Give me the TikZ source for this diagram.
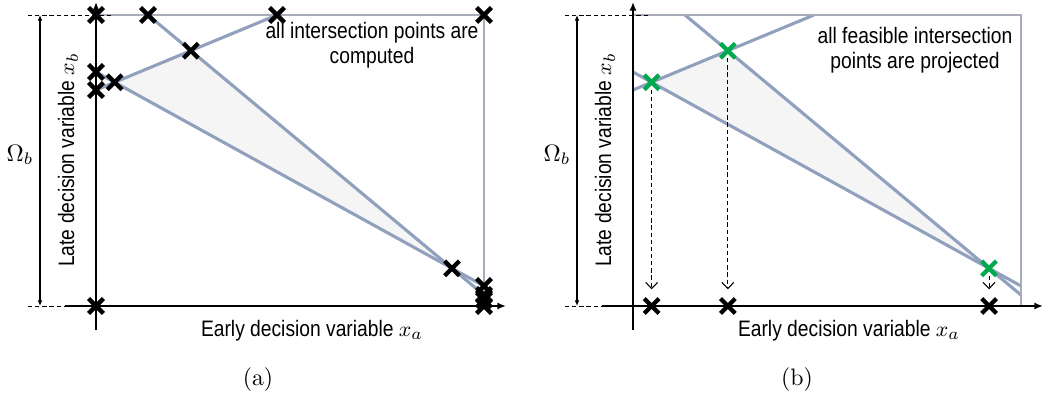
\documentclass[tikz,border=0pt]{standalone}
\usepackage{fontspec}
\usepackage{tikz}
\usetikzlibrary{
  arrows.meta,
  shapes.misc
}
\newfontfamily\labfont{Liberation Sans}[FakeStretch=0.86]
\definecolor{slate}{RGB}{144,160,189}
\definecolor{boxgrey}{RGB}{168,172,186}
\definecolor{regionfill}{RGB}{245,245,246}
\definecolor{feasgreen}{RGB}{0,168,78}
\tikzset{
  constr/.style={slate, line width=1.3pt},
  frame/.style={boxgrey, line width=0.6pt},
  axis/.style={black, line width=1pt, -{Latex[length=3.6pt,width=3pt]}},
  guide/.style={dash pattern=on 1.8pt off 1.2pt, line width=0.4pt},
  dimarr/.style={line width=0.45pt, {Latex[length=2.4pt,width=2pt]}-{Latex[length=2.4pt,width=2pt]}},
  proj/.style={dash pattern=on 1.8pt off 1.2pt, line width=0.45pt, -{Straight Barb[length=2.6pt,width=5pt]}},
  xmark/.style={cross out, draw=black, line width=1.8pt, minimum size=4.4pt, inner sep=0pt},
  gmark/.style={xmark, draw=feasgreen},
  lab/.style={font=\labfont\fontsize{9.4}{10.6}\selectfont}
}

\begin{document}
\begin{tikzpicture}[x=0.42pt, y=-0.42pt]
  \useasboundingbox (0,0) rectangle (1044,399);

  % both panels share frame, axes and the three constraints
  \foreach \p/\dx in {a/0, b/537} {
    \begin{scope}[shift={(\dx,0)}]
      \coordinate (\p-o)  at (96,306);
      \coordinate (\p-yt) at (96,2);
      \coordinate (\p-yb) at (96,330);
      \coordinate (\p-xl) at (65,306);
      \coordinate (\p-xr) at (506,306);
      \coordinate (\p-tl) at (96,15);
      \coordinate (\p-tr) at (484,15);
      \coordinate (\p-br) at (484,306);
      % constraint lines
      \coordinate (\p-a1) at (148,15);
      \coordinate (\p-a2) at (484,295);
      \coordinate (\p-b1) at (96,72);
      \coordinate (\p-b2) at (484,286);
      \coordinate (\p-c1) at (96,90);
      \coordinate (\p-c2) at (277,15);
      % dimension and guides
      \coordinate (\p-dt) at (40,15);
      \coordinate (\p-db) at (40,306);
      \coordinate (\p-gt) at (28,15);
      \coordinate (\p-ge) at (113,15);
      \coordinate (\p-gb) at (28,306);
    \end{scope}
    \coordinate (\p-v1) at (intersection of \p-b1--\p-b2 and \p-c1--\p-c2);
    \coordinate (\p-v2) at (intersection of \p-a1--\p-a2 and \p-c1--\p-c2);
    \coordinate (\p-v3) at (intersection of \p-a1--\p-a2 and \p-b1--\p-b2);

    \fill[regionfill] (\p-v1) -- (\p-v2) -- (\p-v3) -- cycle;
    \draw[constr] (\p-a1) -- (\p-a2);
    \draw[constr] (\p-b1) -- (\p-b2);
    \draw[constr] (\p-c1) -- (\p-c2);
    \draw[frame] (\p-tl) -- (\p-tr) -- (\p-br);

    \draw[axis] (\p-yb) -- (\p-yt);
    \draw[axis] (\p-xl) -- (\p-xr);
    \draw[guide] (\p-gt) -- (\p-ge);
    \draw[guide] (\p-gb) -- (\p-xl);
    \draw[dimarr] (\p-dt) -- (\p-db);

    \node[font=\normalsize] (\p-omega) at ([shift={(-20,-151)}]\p-db) {$\Omega_b$};
    \node[lab, rotate=90] (\p-ylab) at ([shift={(-28,-146)}]\p-o) {Late decision variable $x_b$};
    \node[lab] (\p-xlab) at ([shift={(216,25)}]\p-o) {Early decision variable $x_a$};
  }

  % (a): every intersection gets a mark
  \coordinate (a-e1) at (484,300);
  \foreach \c [count=\i] in {a-tl,a-a1,a-c2,a-tr,a-b1,a-c1,a-v1,a-v2,a-v3,a-o,a-b2,a-a2,a-e1,a-br}
    \node[xmark] (a-m\i) at (\c) {};
  \node[lab, align=center] (a-note) at (372,45) {all intersection points are\\computed};
  \node (a-cap) at (258,380) {(a)};

  % (b): feasible vertices projected onto x_a
  \foreach \i in {1,2,3} {
    \node[xmark] (b-p\i) at (b-v\i |- b-o) {};
    \node[gmark] (b-g\i) at (b-v\i) {};
    \draw[proj] (b-g\i) -- ([yshift=7pt]b-p\i.center);
  }
  \node[lab, align=center] (b-note) at (915,50) {all feasible intersection\\points are projected};
  \node (b-cap) at (797,380) {(b)};
\end{tikzpicture}
\end{document}
